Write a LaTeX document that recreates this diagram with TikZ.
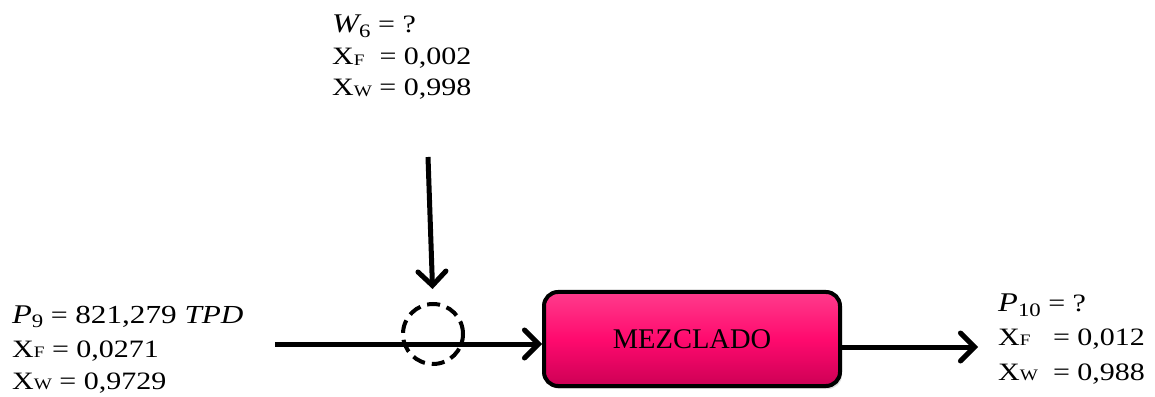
\documentclass[tikz,border=0pt]{standalone}
\usepackage{fontspec}
\setmainfont{Liberation Serif}
\usetikzlibrary{arrows.meta,shadows}
\definecolor{boxpink}{RGB}{255,10,110}
\definecolor{boxpinklight}{RGB}{255,60,140}
\definecolor{boxpinkdark}{RGB}{205,0,85}
% composition symbol X with a small component letter
\newcommand{\xsub}[1]{X\raisebox{-0.5pt}{\fontsize{16}{16}\selectfont #1}}
% italic variable with a numeric subscript
\newcommand{\var}[2]{{\fontsize{27}{27}\selectfont\itshape #1}\raisebox{-5pt}{\fontsize{19}{19}\selectfont #2}}
% labels are set slightly wide
\newcommand{\wide}[1]{\scalebox{1.2}[1]{#1}}
\begin{document}
\begin{tikzpicture}[x=1pt,y=1pt,
  lbl/.style={anchor=base west, inner sep=0pt, font=\fontsize{25}{25}\selectfont},
  flow/.style={line width=5pt, -{Straight Barb[length=14pt,width=28pt,line cap=round]}},
  unitbox/.style={draw=black, line width=4pt, rounded corners=14pt,
    minimum width=296pt, minimum height=94pt,
    top color=boxpinklight, bottom color=boxpinkdark, middle color=boxpink,
    drop shadow={opacity=0.25, shadow xshift=2pt, shadow yshift=-3pt},
    font=\fontsize{28.5}{28.5}\selectfont},
  junction/.style={circle, draw=black, line width=4pt, dash pattern=on 13pt off 7pt,
    minimum size=60pt, inner sep=0pt}
]
\useasboundingbox (0,0) rectangle (1155,396);

% feed water labels
\node[lbl] (w6)  at (332,363) {\wide{\var{W}{6}\ = ?}};
\node[lbl] (w6f) at (332,331) {\wide{\xsub{F}\ \ = 0,002}};
\node[lbl] (w6w) at (332,300) {\wide{\xsub{W} = 0,998}};

% incoming product labels
\node[lbl] (p9)  at (12,73) {\wide{\var{P}{9} = {\fontsize{26}{26}\selectfont 821,279 \itshape TPD}}};
\node[lbl] (p9f) at (12,39) {\wide{\xsub{F} = 0,0271}};
\node[lbl] (p9w) at (12,7)  {\wide{\xsub{W} = 0,9729}};

% outgoing product labels
\node[lbl] (p10)  at (998,84) {\wide{\var{P}{10} = ?}};
\node[lbl] (p10f) at (998,51) {\wide{\xsub{F}\ \ \ = 0,012}};
\node[lbl] (p10w) at (998,16) {\wide{\xsub{W}\ \ = 0,988}};

% mixing unit and junction
\node[unitbox] (mix) at (692,57) {MEZCLADO};
\node[junction] (mixpt) at (433,62) {};

% streams
\coordinate (w6src) at (428,239);
\coordinate (p9src) at (275,52);
\coordinate (p10dst) at (978,49);

\draw[flow, shorten >=13pt] (w6src) -- (mixpt.north);
\draw[flow] (p9src) -- (mix.west |- p9src);
\draw[flow] (mix.east |- p10dst) -- (p10dst);
\end{tikzpicture}
\end{document}
